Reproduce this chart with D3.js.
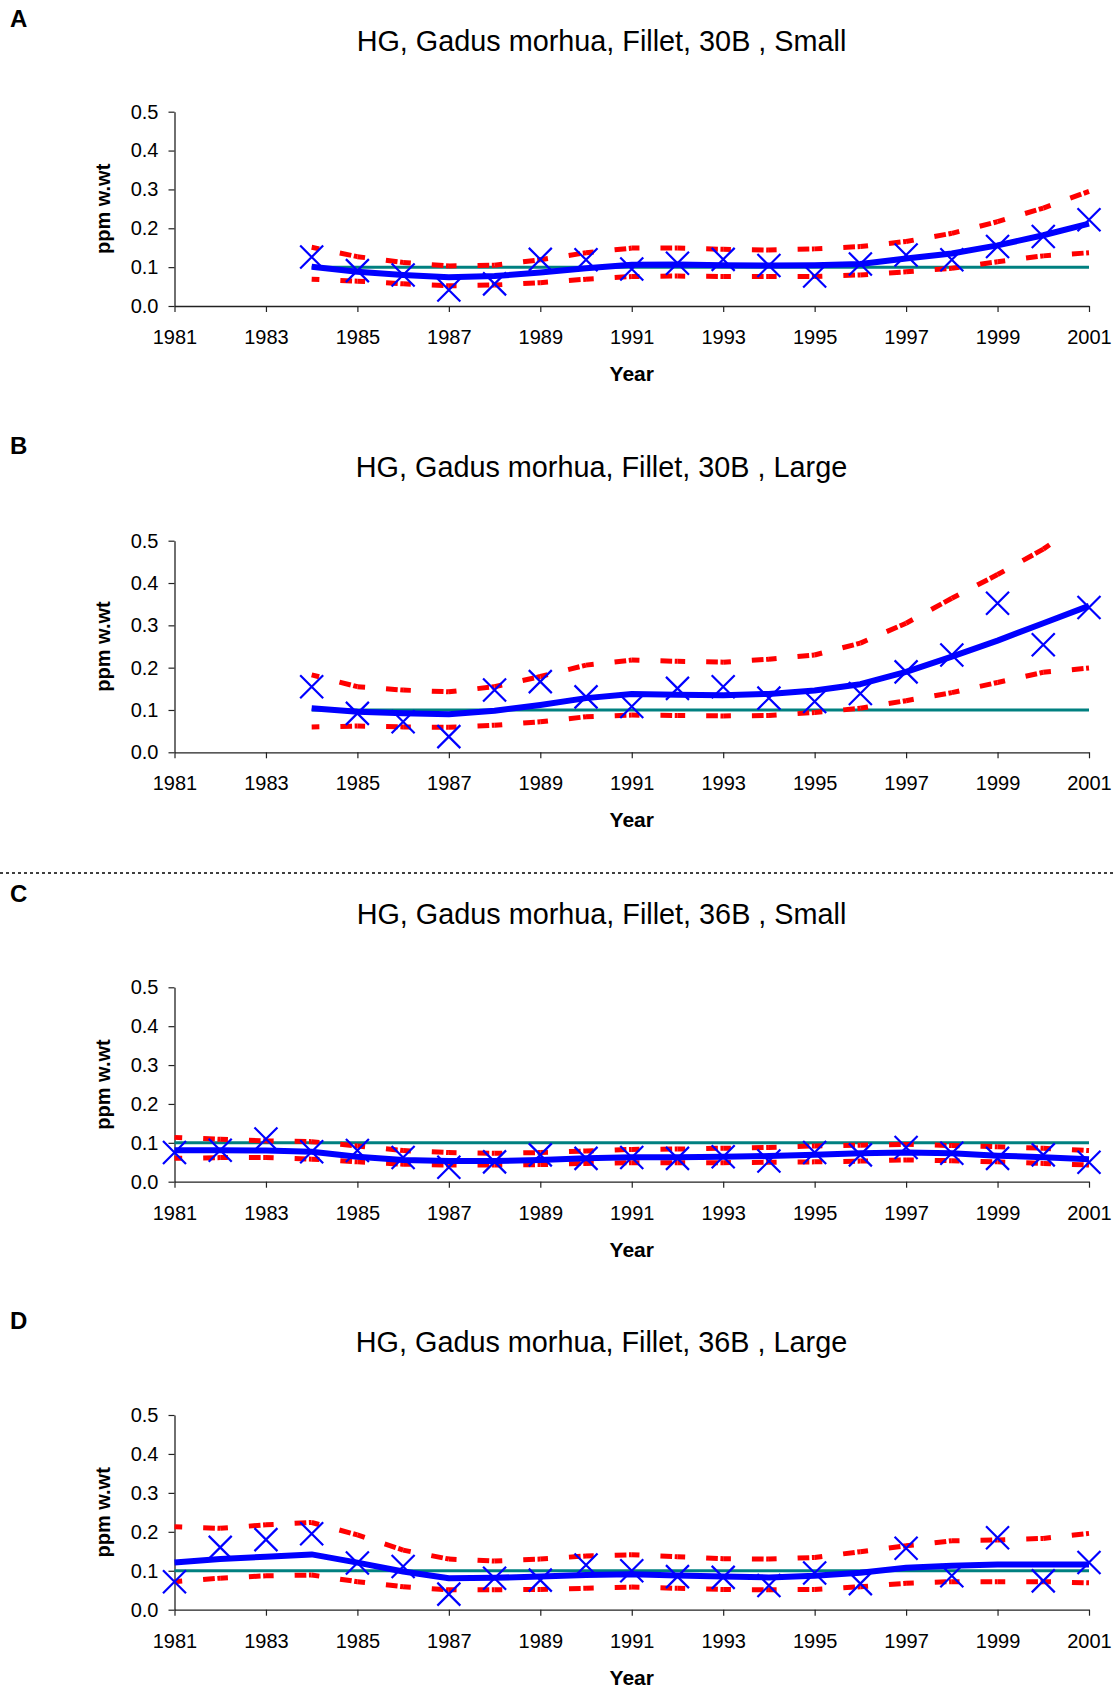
<!DOCTYPE html>
<html><head><meta charset="utf-8">
<script src="https://cdn.jsdelivr.net/npm/d3@7"></script>
<style>
html,body{margin:0;padding:0;background:#fff;}
svg text{font-family:"Liberation Sans",Arial,Helvetica,sans-serif;}
</style></head>
<body>
<svg id="chart" width="1116" height="1691"></svg>
<script>
// ---------- data ----------
const panelLetters = ["A","B","C","D"];
const panelTitles = [
  "HG, Gadus morhua, Fillet, 30B , Small",
  "HG, Gadus morhua, Fillet, 30B , Large",
  "HG, Gadus morhua, Fillet, 36B , Small",
  "HG, Gadus morhua, Fillet, 36B , Large"
];
const xTickYears = [1981,1983,1985,1987,1989,1991,1993,1995,1997,1999,2001];
const yTickValues = [0.0,0.1,0.2,0.3,0.4,0.5];
const referenceLevel = 0.1;

const years30B = [1984,1985,1986,1987,1988,1989,1990,1991,1992,1993,1994,1995,1996,1997,1998,1999,2000,2001];
const years36B = [1981,1982,1983,1984,1985,1986,1987,1988,1989,1990,1991,1992,1993,1994,1995,1996,1997,1998,1999,2000,2001];

const obsA   = [0.126,0.091,0.080,0.041,0.057,0.120,0.119,0.095,0.110,0.120,0.104,0.077,0.108,0.131,0.119,0.153,0.179,0.222];
const fitA   = [0.101,0.088,0.080,0.074,0.077,0.086,0.097,0.106,0.107,0.105,0.104,0.105,0.108,0.122,0.135,0.156,0.182,0.212];
const upperA = [0.151,0.127,0.112,0.103,0.105,0.119,0.137,0.149,0.149,0.146,0.144,0.147,0.153,0.166,0.187,0.217,0.252,0.295];
const lowerA = [0.069,0.064,0.057,0.052,0.054,0.060,0.069,0.076,0.077,0.076,0.076,0.076,0.080,0.088,0.097,0.114,0.129,0.137];

const obsB   = [0.155,0.092,0.072,0.037,0.147,0.167,0.131,0.108,0.151,0.155,0.128,0.120,0.139,0.190,0.230,0.352,0.254,0.342];
const fitB   = [0.104,0.096,0.092,0.090,0.098,0.112,0.128,0.138,0.136,0.135,0.138,0.146,0.161,0.190,0.226,0.264,0.305,0.346];
const upperB = [0.183,0.155,0.147,0.143,0.155,0.179,0.206,0.218,0.215,0.213,0.220,0.230,0.258,0.305,0.364,0.420,0.480,0.555];
const lowerB = [0.060,0.062,0.060,0.059,0.064,0.072,0.084,0.088,0.087,0.086,0.087,0.094,0.104,0.122,0.141,0.165,0.189,0.199];

const obsC   = [0.075,0.081,0.110,0.077,0.080,0.062,0.037,0.051,0.069,0.060,0.062,0.060,0.064,0.053,0.075,0.069,0.088,0.073,0.060,0.069,0.050];
const fitC   = [0.081,0.081,0.080,0.077,0.064,0.056,0.053,0.053,0.056,0.060,0.063,0.063,0.064,0.066,0.069,0.073,0.075,0.073,0.067,0.063,0.058];
const upperC = [0.114,0.109,0.105,0.103,0.092,0.080,0.075,0.073,0.075,0.079,0.083,0.084,0.086,0.088,0.092,0.094,0.096,0.093,0.090,0.086,0.080];
const lowerC = [0.060,0.062,0.062,0.058,0.051,0.045,0.043,0.043,0.044,0.047,0.049,0.049,0.049,0.050,0.051,0.053,0.056,0.054,0.051,0.047,0.043];

const obsD   = [0.072,0.160,0.180,0.195,0.120,0.111,0.040,0.081,0.076,0.115,0.100,0.085,0.083,0.062,0.094,0.067,0.158,0.087,0.185,0.074,0.121];
const fitD   = [0.121,0.130,0.136,0.142,0.121,0.098,0.081,0.082,0.085,0.089,0.091,0.088,0.085,0.083,0.087,0.095,0.108,0.113,0.116,0.116,0.116];
const upperD = [0.213,0.209,0.218,0.224,0.192,0.153,0.130,0.125,0.130,0.138,0.141,0.136,0.131,0.130,0.134,0.149,0.164,0.177,0.179,0.183,0.196];
const lowerD = [0.072,0.081,0.087,0.089,0.072,0.059,0.051,0.051,0.052,0.055,0.058,0.055,0.052,0.051,0.052,0.059,0.068,0.072,0.072,0.072,0.069];

const panelData = [
  {years: years30B, obs: obsA, fit: fitA, upper: upperA, lower: lowerA},
  {years: years30B, obs: obsB, fit: fitB, upper: upperB, lower: lowerB},
  {years: years36B, obs: obsC, fit: fitC, upper: upperC, lower: lowerC},
  {years: years36B, obs: obsD, fit: fitD, upper: upperD, lower: lowerD}
];

// ---------- layout ----------
const layout = [
  {letterY: 26.7, titleY: 50.5, top: 111.7, bottom: 306.0},
  {letterY: 454.0, titleY: 477.0, top: 540.7, bottom: 752.3},
  {letterY: 901.7, titleY: 924.0, top: 987.3, bottom: 1181.7},
  {letterY: 1329.0, titleY: 1351.7, top: 1415.0, bottom: 1609.7}
];
const plotLeft = 174.5, plotRight = 1089;
const titleX = 601.5;

const svg = d3.select("#chart");

// separator
svg.append("line").attr("x1",0).attr("x2",1116).attr("y1",873).attr("y2",873)
  .attr("stroke","#000").attr("stroke-width",1.6).attr("stroke-dasharray","3,3");

const x = d3.scaleLinear().domain([1981,2001]).range([plotLeft, plotRight]);

panelData.forEach((pd, i) => {
  const L = layout[i];
  const y = d3.scaleLinear().domain([0,0.5]).range([L.bottom, L.top]);
  const g = svg.append("g");

  g.append("text").attr("x",10).attr("y",L.letterY).attr("font-size",24).attr("font-weight","bold")
    .text(panelLetters[i]);
  g.append("text").attr("x",titleX).attr("y",L.titleY).attr("font-size",28.8).attr("text-anchor","middle")
    .text(panelTitles[i]);

  // axes
  const ya = g.append("g").attr("transform",`translate(${plotLeft},0)`)
    .call(d3.axisLeft(y).tickValues(yTickValues).tickFormat(d3.format(".1f")).tickSize(6).tickPadding(10).tickSizeOuter(0));
  const xa = g.append("g").attr("transform",`translate(0,${L.bottom})`)
    .call(d3.axisBottom(x).tickValues(xTickYears).tickFormat(d3.format("d")).tickSize(6).tickPadding(18).tickSizeOuter(0));
  [ya, xa].forEach(a => {
    a.select(".domain").attr("stroke","#222").attr("stroke-width",1.3);
    a.selectAll(".tick line").attr("stroke","#222").attr("stroke-width",1.2);
    a.selectAll("text").attr("font-size",20).attr("fill","#000")
      .style("font-family",'"Liberation Sans",Arial,sans-serif');
  });

  g.append("text").attr("x",(plotLeft+plotRight)/2).attr("y",L.bottom+75)
    .attr("text-anchor","middle").attr("font-size",21).attr("font-weight","bold").text("Year");
  g.append("text").attr("transform",`translate(110,${(L.top+L.bottom)/2}) rotate(-90)`)
    .attr("text-anchor","middle").attr("font-size",20).attr("font-weight","bold").text("ppm w.wt");

  // clip
  const cid = "clip"+i;
  svg.append("clipPath").attr("id",cid).append("rect")
    .attr("x",plotLeft-20).attr("y",L.top).attr("width",plotRight-plotLeft+40).attr("height",L.bottom-L.top);
  const pg = g.append("g").attr("clip-path",`url(#${cid})`);

  const yrs = pd.years;
  // reference line
  pg.append("line").attr("x1",x(yrs[0])).attr("x2",x(2001))
    .attr("y1",y(referenceLevel)).attr("y2",y(referenceLevel))
    .attr("stroke","#008080").attr("stroke-width",3);

  // red dashed bands, pattern restarting at every segment
  [pd.upper, pd.lower].forEach(arr => {
    for (let k=0;k<arr.length-1;k++){
      pg.append("line")
        .attr("x1",x(yrs[k])).attr("y1",y(arr[k]))
        .attr("x2",x(yrs[k+1])).attr("y2",y(arr[k+1]))
        .attr("stroke","#ff0000").attr("stroke-width",5)
        .attr("stroke-dasharray","7.7,21,11.7,2.6,300");
    }
  });

  // fitted trend
  const line = d3.line().x((d,k)=>x(yrs[k])).y(d=>y(d));
  pg.append("path").datum(pd.fit).attr("d",line).attr("fill","none")
    .attr("stroke","#0000ff").attr("stroke-width",6).attr("stroke-linejoin","round");

  // observed markers
  const s = 11.5;
  g.selectAll(null).data(pd.obs).enter().append("path")
    .attr("transform",(d,k)=>`translate(${x(yrs[k])},${y(d)})`)
    .attr("d",`M${-s},${-s}L${s},${s}M${-s},${s}L${s},${-s}`)
    .attr("stroke","#0000ff").attr("stroke-width",2.2).attr("fill","none");
});
</script>
</body></html>
